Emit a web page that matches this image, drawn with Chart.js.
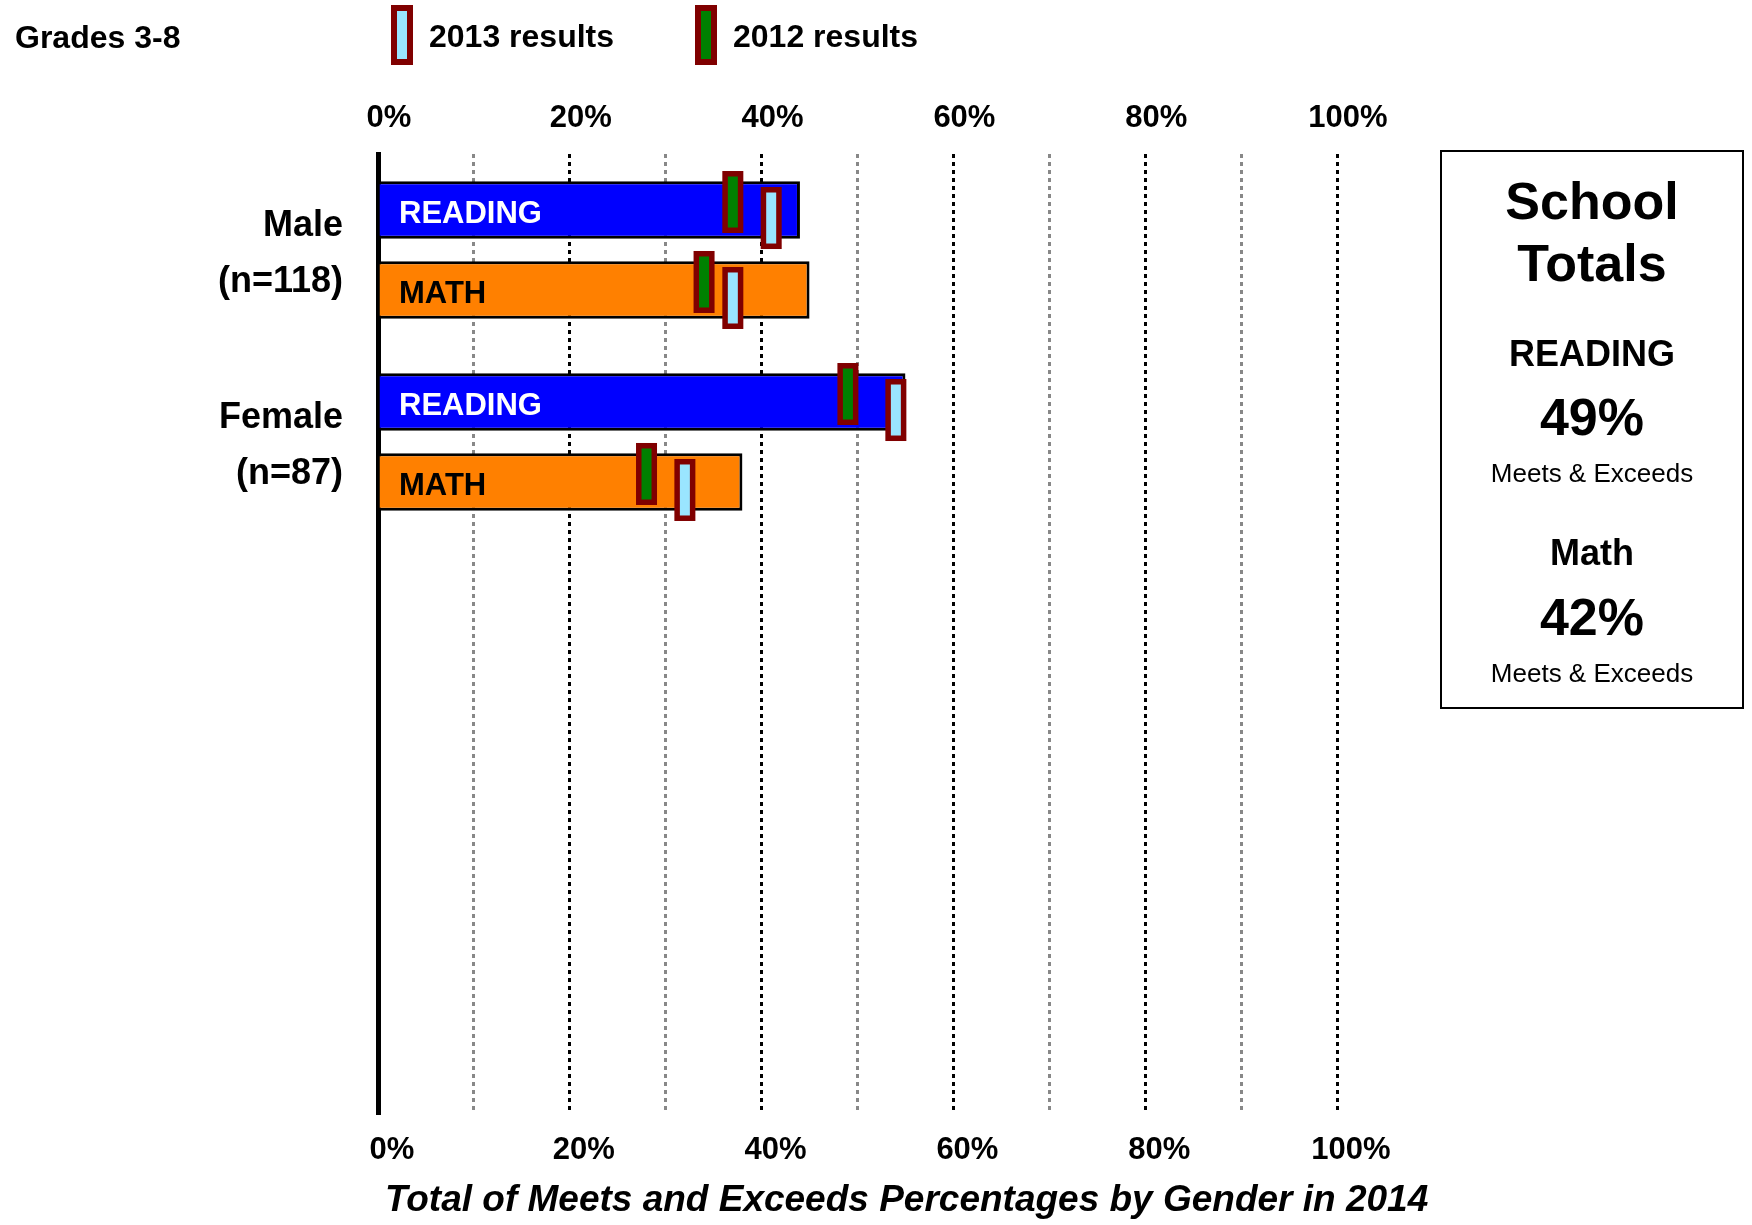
<!DOCTYPE html>
<html>
<head>
<meta charset="utf-8">
<script src="https://cdn.jsdelivr.net/npm/chart.js@4.4.1/dist/chart.umd.min.js"></script>
<style>
  body { margin:0; background:#fff; font-family:"Liberation Sans", Arial, sans-serif; }
  #wrap { position:relative; width:1752px; height:1225px; overflow:hidden; }
  #chart { position:absolute; left:0; top:0; }
  .t { position:absolute; white-space:nowrap; color:#000; font-weight:bold; }
  .mk { position:absolute; width:22px; height:60px; box-sizing:border-box; border:6px solid #800000; }
  #totals { position:absolute; left:1440px; top:150px; width:304px; height:559px; box-sizing:border-box; border:2px solid #000; }
  #totals div { position:absolute; left:0; width:100%; text-align:center; white-space:nowrap; }
  #xtitle { left:385px; top:1174px; font-size:37px; line-height:50px; font-style:italic; }
</style>
</head>
<body>
<div id="wrap">
  <canvas id="chart" width="1752" height="1225"></canvas>

  <div class="t" style="left:15px;top:17px;font-size:32px;line-height:40px;">Grades 3-8</div>
  <div class="mk" style="left:391px;top:5px;background:#9AE5FF;"></div>
  <div class="t" style="left:429px;top:16px;font-size:32px;line-height:40px;">2013 results</div>
  <div class="mk" style="left:695px;top:5px;background:#008000;"></div>
  <div class="t" style="left:733px;top:16px;font-size:32px;line-height:40px;">2012 results</div>

  <div id="totals"></div>
  <div class="t" id="xtitle"></div>
</div>

<script>
// Data
const groups = [['Male', '(n=118)'], ['Female', '(n=87)'], '', '', ''];
const subjects = ['READING', 'MATH'];
const results2014 = [[44, 55], [45, 38]];   // [subject][group]
const results2012 = [[37, 49], [34, 28]];
const results2013 = [[41, 54], [37, 32]];
const tickLabels = ['0%', '20%', '40%', '60%', '80%', '100%'];
const axisTitle = 'Total of Meets and Exceeds Percentages by Gender in 2014';
const totalsLines = [
  ['School', 52, 'bold'], ['Totals', 52, 'bold'],
  ['READING', 36, 'bold'], ['49%', 52, 'bold'], ['Meets & Exceeds', 26, 'normal'],
  ['Math', 36, 'bold'], ['42%', 52, 'bold'], ['Meets & Exceeds', 26, 'normal']
];

const FONT = '"Liberation Sans", Arial, sans-serif';
const barColors = ['#0000FF', '#FF8000'];
const barTextColors = ['#FFFFFF', '#000000'];

document.getElementById('xtitle').textContent = axisTitle;

// School totals box
const totalsY = [49, 111, 202, 265, 321, 401, 465, 521];
const totalsEl = document.getElementById('totals');
totalsLines.forEach((l, i) => {
  const d = document.createElement('div');
  d.textContent = l[0];
  d.style.fontSize = l[1] + 'px';
  d.style.fontWeight = l[2];
  d.style.lineHeight = '70px';
  d.style.top = (totalsY[i] - 35) + 'px';
  totalsEl.appendChild(d);
});

// Marker: dark red frame with coloured middle
function drawMarker(ctx, x, y, fill){
  const w = 21, h = 62, b = 5.5;
  ctx.fillStyle = '#800000';
  ctx.fillRect(x - w/2, y - h/2, w, h);
  ctx.fillStyle = fill;
  ctx.fillRect(x - w/2 + b, y - h/2 + b, w - 2*b, h - 2*b);
}

// Labels inside bars + previous year markers
const overlayPlugin = {
  id: 'overlay',
  afterDatasetsDraw(chart){
    const ctx = chart.ctx;
    const xs = chart.scales.x;
    subjects.forEach((s, d) => {
      const meta = chart.getDatasetMeta(d);
      meta.data.forEach((bar, i) => {
        if (results2014[d][i] == null) return;
        ctx.save();
        ctx.font = 'bold 31px ' + FONT;
        ctx.fillStyle = barTextColors[d];
        ctx.textBaseline = 'middle';
        ctx.textAlign = 'left';
        ctx.fillText(s, chart.chartArea.left + 21, bar.y + 4);
        drawMarker(ctx, xs.getPixelForValue(results2012[d][i]), bar.y - 8, '#008000');
        drawMarker(ctx, xs.getPixelForValue(results2013[d][i]), bar.y + 8, '#9AE5FF');
        ctx.restore();
      });
    });
  }
};

function tickText(v){
  return v % 20 === 0 ? tickLabels[v / 20] : '';
}

new Chart(document.getElementById('chart'), {
  type: 'bar',
  data: {
    labels: groups,
    datasets: subjects.map((s, d) => ({
      label: s,
      data: results2014[d],
      backgroundColor: barColors[d],
      borderColor: '#000000',
      borderWidth: 3,
      categoryPercentage: 0.833,
      barPercentage: 0.72
    }))
  },
  options: {
    indexAxis: 'y',
    responsive: false,
    animation: false,
    devicePixelRatio: 1,
    layout: { padding: { left: 0, top: 0, right: 415, bottom: 0 } },
    plugins: { legend: { display: false }, tooltip: { enabled: false } },
    scales: {
      x: {
        type: 'linear', position: 'bottom', min: 0, max: 100,
        afterFit: s => { s.height = 111; },
        ticks: { stepSize: 10, autoSkip: false, maxRotation: 0, padding: 18, labelOffset: 14,
                 color: '#000', font: { family: FONT, size: 31, weight: 'bold' }, callback: tickText },
        grid: {
          drawTicks: false,
          lineWidth: 3,
          color: c => c.tick.value === 0 ? 'rgba(0,0,0,0)' : (c.tick.value % 20 === 0 ? '#000000' : '#888888')
        },
        border: { display: false, dash: [4, 4] }
      },
      x2: {
        type: 'linear', position: 'top', min: 0, max: 100,
        afterFit: s => { s.height = 154; },
        ticks: { stepSize: 20, autoSkip: false, maxRotation: 0, padding: 17, labelOffset: 11,
                 color: '#000', font: { family: FONT, size: 31, weight: 'bold' }, callback: tickText },
        grid: { drawOnChartArea: false, drawTicks: false },
        border: { display: false }
      },
      y: {
        type: 'category',
        afterFit: s => { s.width = 378; },
        ticks: { padding: 35, labelOffset: 4, color: '#000',
                 font: { family: FONT, size: 36, weight: 'bold', lineHeight: 1.56 } },
        grid: { display: false, drawTicks: false },
        border: { display: true, color: '#000', width: 5 }
      }
    }
  },
  plugins: [overlayPlugin]
});
</script>
</body>
</html>
